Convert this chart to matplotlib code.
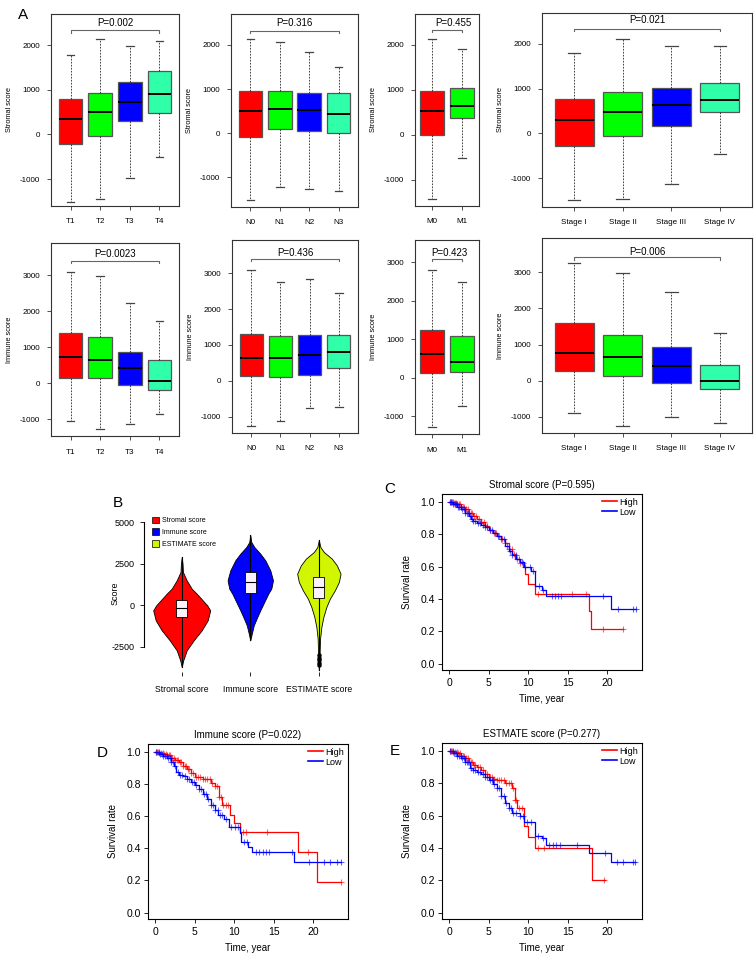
import numpy as np
import matplotlib.pyplot as plt
from matplotlib.patches import Patch
from matplotlib.lines import Line2D

plt.rcParams['font.family'] = ['Liberation Sans', 'DejaVu Sans']
plt.rcParams['axes.unicode_minus'] = False

W, H = 754, 957

# ---- panel A: box plot statistics, rows = whislo, q1, median, q3, whishi ----
t_labels = ['T1', 'T2', 'T3', 'T4']
n_labels = ['N0', 'N1', 'N2', 'N3']
m_labels = ['M0', 'M1']
s_labels = ['Stage I', 'Stage II', 'Stage III', 'Stage IV']

st_T = [[-1522, -1455, -970, -515], [-216, -37, 306, 470], [336, 493, 724, 903],
        [784, 918, 1172, 1418], [1776, 2127, 1985, 2082]]
st_N = [[-1517, -1230, -1268, -1306], [-91, 83, 38, 8], [491, 551, 521, 438],
        [966, 966, 906, 906], [2128, 2075, 1834, 1502]]
st_M = [[-1430, -520], [-15, 363], [520, 644], [970, 1044], [2126, 1900]]
st_S = [[-1497, -1459, -1132, -469], [-290, -67, 164, 469], [305, 469, 625, 752],
        [774, 923, 1020, 1124], [1795, 2115, 1958, 1958]]

im_T = [[-1065, -1278, -1130, -870], [139, 130, -65, -194], [722, 648, 426, 46],
        [1407, 1287, 870, 630], [3093, 2991, 2231, 1741]]
im_N = [[-1271, -1122, -761, -733], [130, 111, 167, 353], [640, 640, 705, 798],
        [1317, 1243, 1271, 1271], [3098, 2764, 2829, 2440]]
im_M = [[-1281, -727], [121, 156], [632, 416], [1238, 1100], [2814, 2502]]
im_S = [[-889, -1269, -1009, -1167], [259, 120, -74, -222], [759, 648, 417, -19],
        [1602, 1269, 944, 444], [3269, 2991, 2444, 1306]]

p_values = ['P=0.002', 'P=0.316', 'P=0.455', 'P=0.021',
            'P=0.0023', 'P=0.436', 'P=0.423', 'P=0.006']

box_colors = ['#FF0000', '#00FF00', '#0000FF', '#30FFAA']

# ---- panel B: violins (value levels and half widths in px) ----
vio_names = ['Stromal score', 'Immune score', 'ESTIMATE score']
vio_colors = ['#FF0000', '#0000FF', '#D2F500']
vio_st_y = [2900, 2500, 2000, 1500, 1000, 700, 300, 0, -300, -900, -1500, -2100, -2700, -3300, -3700]
vio_st_w = [0, 0.8, 1.2, 5, 10, 15, 21, 25.5, 28.5, 26, 20, 12, 5, 1.5, 0]
vio_im_y = [4217, 3800, 3500, 3100, 2700, 2100, 1500, 1000, 700, 200, -300, -700, -1200, -1700, -2100]
vio_im_w = [0, 1, 4, 10, 15, 20, 22.7, 21, 18, 14, 10, 7, 3.5, 1.5, 0]
vio_es_y = [3916, 3500, 3200, 2800, 2400, 1900, 1400, 900, 400, -100, -700, -1300, -2000, -2800, -3600, -3900]
vio_es_w = [0, 1.5, 5, 13, 18, 21.7, 20, 16, 11, 7.5, 4.5, 2.5, 1.2, 0.8, 0.3, 0]
vio_q1 = [-705, 765, 440]
vio_med = [-160, 1406, 1084]
vio_q3 = [341, 1970, 1706]
vio_es_out = [-3000, -3150, -3300, -3450, -3600]

# ---- panels C-E: Kaplan-Meier step curves ----
c_hi_t = [0, 0.5, 1, 1.5, 2, 2.5, 3, 3.5, 4, 4.5, 5, 5.5, 6, 6.5, 7, 7.5, 8, 8.3, 9, 9.4, 9.6, 10.0, 10.8, 17.7, 18.0]
c_hi_s = [1.0, 0.995, 0.985, 0.97, 0.955, 0.935, 0.915, 0.895, 0.875, 0.85, 0.83, 0.81, 0.79, 0.77,
          0.745, 0.71, 0.68, 0.645, 0.62, 0.60, 0.555, 0.495, 0.43, 0.325, 0.215]
c_hi_end = 22.1
c_hi_cens = [0.1, 0.25, 0.4, 0.55, 0.7, 0.85, 1.0, 1.15, 1.3, 1.5, 1.7, 1.9, 2.1, 2.3, 2.5, 2.7, 2.9,
             3.1, 3.4, 3.7, 4.0, 4.4, 4.8, 5.2, 5.6, 5.9, 6.3, 6.7, 7.1, 7.5, 7.9, 8.2, 8.6, 9.0, 9.3,
             11.3, 15.6, 17.4, 19.5, 22.1]
c_lo_t = [0, 0.5, 1, 1.5, 2, 2.5, 2.7, 3, 3.5, 4, 4.5, 5, 5.5, 6, 6.5, 7, 7.5, 8, 8.5, 9, 9.5, 10.3,
          10.9, 11.7, 12.2, 20.5]
c_lo_s = [1.0, 0.985, 0.97, 0.955, 0.935, 0.915, 0.895, 0.885, 0.87, 0.86, 0.845, 0.83, 0.81, 0.79,
          0.77, 0.73, 0.70, 0.67, 0.65, 0.63, 0.60, 0.575, 0.48, 0.455, 0.42, 0.335]
c_lo_end = 23.7
c_lo_cens = [0.05, 0.2, 0.35, 0.5, 0.65, 0.8, 0.95, 1.1, 1.25, 1.4, 1.6, 1.8, 2.0, 2.2, 2.4, 2.6, 2.8,
             3.0, 3.3, 3.6, 3.9, 4.2, 4.5, 4.8, 5.1, 5.4, 5.8, 6.2, 6.6, 6.9, 7.3, 7.7, 8.0, 8.4, 8.8,
             9.2, 9.6, 10.2, 10.6, 11.4, 11.9, 13.0, 13.4, 13.8, 14.1, 19.5, 21.4, 23.3, 23.65]

d_hi_t = [0, 0.5, 1, 1.5, 2, 2.5, 3, 3.5, 4, 4.5, 5, 6, 7, 7.5, 8.1, 8.5, 9.5, 10.0, 10.7, 18.1, 20.5]
d_hi_s = [1.0, 0.995, 0.99, 0.98, 0.965, 0.95, 0.935, 0.915, 0.895, 0.87, 0.845, 0.835, 0.81, 0.79,
          0.72, 0.67, 0.61, 0.555, 0.50, 0.375, 0.188]
d_hi_end = 23.6
d_hi_cens = [0.1, 0.3, 0.5, 0.7, 0.9, 1.1, 1.3, 1.5, 1.7, 1.9, 2.1, 2.3, 2.5, 2.7, 2.9, 3.1, 3.3, 3.5,
             3.7, 3.9, 4.1, 4.3, 4.5, 4.8, 5.1, 5.4, 5.7, 6.0, 6.3, 6.6, 6.9, 7.2, 7.5, 7.8, 8.1, 8.3,
             8.6, 8.9, 9.2, 11.1, 11.5, 14.2, 19.4, 23.5]
d_lo_t = [0, 0.5, 1, 1.5, 2, 2.3, 2.6, 3, 3.5, 4, 4.5, 5, 5.5, 6, 6.5, 7, 7.5, 8, 8.7, 9.3, 10.7,
          10.9, 11.8, 12.2, 17.6]
d_lo_s = [1.0, 0.985, 0.975, 0.96, 0.94, 0.91, 0.875, 0.86, 0.85, 0.835, 0.815, 0.795, 0.77, 0.74,
          0.71, 0.67, 0.64, 0.605, 0.585, 0.535, 0.495, 0.44, 0.41, 0.38, 0.317]
d_lo_end = 23.6
d_lo_cens = [0.05, 0.2, 0.4, 0.6, 0.8, 1.0, 1.2, 1.4, 1.6, 1.8, 2.0, 2.2, 2.5, 2.8, 3.1, 3.4, 3.7,
             4.0, 4.3, 4.6, 4.9, 5.2, 5.5, 5.8, 6.1, 6.4, 6.7, 7.0, 7.3, 7.6, 7.9, 8.2, 8.5, 9.0,
             9.6, 10.1, 10.5, 11.2, 11.6, 12.8, 13.2, 13.6, 14.0, 14.4, 17.3, 19.5, 21.4, 22.2,
             23.1, 23.6]

e_hi_t = [0, 0.5, 1, 1.5, 2, 2.5, 3, 3.5, 4, 4.5, 5, 5.5, 6, 7, 8.0, 8.3, 8.6, 9.5, 10.0, 10.8, 18.1]
e_hi_s = [1.0, 0.995, 0.985, 0.97, 0.955, 0.935, 0.915, 0.9, 0.88, 0.86, 0.84, 0.83, 0.82, 0.80,
          0.77, 0.70, 0.65, 0.535, 0.465, 0.40, 0.20]
e_hi_end = 19.7
e_hi_cens = [0.1, 0.3, 0.5, 0.7, 0.9, 1.1, 1.3, 1.5, 1.7, 1.9, 2.1, 2.3, 2.5, 2.7, 2.9, 3.1, 3.3, 3.6,
             3.9, 4.2, 4.5, 4.8, 5.1, 5.4, 5.7, 6.0, 6.3, 6.6, 6.9, 7.2, 7.5, 7.8, 8.1, 8.3, 8.5,
             8.8, 9.2, 11.2, 12.0, 19.6]
e_lo_t = [0, 0.5, 1, 1.5, 2, 2.6, 3, 3.5, 4, 4.5, 5, 5.5, 6, 6.5, 7, 7.5, 8, 9.0, 9.5, 10.8, 11.7,
          12.2, 17.7, 20.5]
e_lo_s = [1.0, 0.985, 0.97, 0.955, 0.935, 0.895, 0.88, 0.87, 0.86, 0.84, 0.82, 0.795, 0.77, 0.72,
          0.68, 0.65, 0.615, 0.60, 0.56, 0.475, 0.46, 0.42, 0.37, 0.31]
e_lo_end = 23.6
e_lo_cens = [0.05, 0.2, 0.4, 0.6, 0.8, 1.0, 1.2, 1.4, 1.6, 1.8, 2.0, 2.2, 2.4, 2.7, 3.0, 3.3, 3.6,
             3.9, 4.2, 4.5, 4.8, 5.1, 5.4, 5.7, 6.0, 6.3, 6.6, 6.9, 7.2, 7.5, 7.8, 8.1, 8.5, 9.0,
             9.4, 9.8, 10.3, 11.3, 11.9, 12.7, 13.1, 13.5, 14.0, 16.2, 19.7, 21.3, 22.1, 23.3, 23.6]


def px_axes(fig, x0, y0, x1, y1):
    return fig.add_axes([x0 / W, 1 - y1 / H, (x1 - x0) / W, (y1 - y0) / H])


def box_panel(ax, stats, labels, ylabel, yticks, ylim, ptext, bracket_y, text_y, text_x=None):
    n = len(labels)
    bx = []
    for i in range(n):
        bx.append(dict(whislo=stats[0][i], q1=stats[1][i], med=stats[2][i],
                       q3=stats[3][i], whishi=stats[4][i], fliers=[]))
    pos = np.arange(1, n + 1)
    res = ax.bxp(bx, positions=pos, widths=0.8, patch_artist=True, capwidths=0.26,
                 boxprops=dict(edgecolor='#555555', linewidth=0.9),
                 whiskerprops=dict(color='#222222', linewidth=0.6, linestyle=(0, (2, 1.6))),
                 capprops=dict(color='#444444', linewidth=0.9),
                 medianprops=dict(color='black', linewidth=1.4))
    for patch, c in zip(res['boxes'], box_colors):
        patch.set_facecolor(c)
    ax.set_xlim(0.5 - 0.04 * n, n + 0.5 + 0.04 * n)
    ax.set_ylim(*ylim)
    ax.set_xticks(pos)
    ax.set_xticklabels(labels)
    ax.set_yticks(yticks)
    ax.tick_params(labelsize=5.8, length=3, width=0.6, color='#333333')
    ax.tick_params(axis='y', pad=5)
    ax.tick_params(axis='x', pad=6)
    for s in ax.spines.values():
        s.set_linewidth(0.8)
        s.set_color('#333333')
    ax.set_ylabel(ylabel, fontsize=5.3)
    wpx = ax.get_position().width * W
    ax.yaxis.set_label_coords(-38 / wpx, 0.5)
    d = (ylim[1] - ylim[0]) * 0.012
    ax.plot([1, 1, n, n], [bracket_y - d, bracket_y, bracket_y, bracket_y - d],
            color='#666666', lw=0.8)
    if text_x is None:
        text_x = (1 + n) / 2
    ax.text(text_x, text_y, ptext, ha='center', va='center', fontsize=7)


def km_curve(ax, t, s, end, cens, color):
    ax.step(list(t) + [end], list(s) + [s[-1]], where='post', color=color, lw=0.9)
    idx = np.searchsorted(t, cens, side='right') - 1
    ax.plot(cens, np.array(s)[idx], '+', color=color, ms=4.5, mew=0.8, alpha=0.6)


def km_panel(ax, title, hi, lo):
    km_curve(ax, *hi, 'red')
    km_curve(ax, *lo, 'blue')
    ax.set_xlim(-0.95, 24.45)
    ax.set_ylim(-0.04, 1.05)
    ax.set_xticks([0, 5, 10, 15, 20])
    ax.set_yticks([0.0, 0.2, 0.4, 0.6, 0.8, 1.0])
    ax.set_yticklabels(['0.0', '0.2', '0.4', '0.6', '0.8', '1.0'])
    ax.tick_params(labelsize=7.5, length=3, width=0.6, pad=2)
    ax.tick_params(axis='x', pad=3)
    for sp in ax.spines.values():
        sp.set_linewidth(0.8)
    ax.set_title(title, fontsize=7, pad=4)
    ax.set_ylabel('Survival rate', fontsize=7)
    ax.set_xlabel('Time, year', fontsize=7)
    ax.yaxis.set_label_coords(-30 / 200, 0.5)
    ax.xaxis.set_label_coords(0.5, -24 / 176)
    handles = [Line2D([], [], color='red', lw=1.2), Line2D([], [], color='blue', lw=1.2)]
    ax.legend(handles, ['High', 'Low'], loc='upper right', frameon=False, fontsize=6.5,
              handlelength=1.6, handletextpad=0.3, labelspacing=0.1, borderaxespad=0.2,
              borderpad=0.2)


fig = plt.figure(figsize=(W / 100, H / 100), dpi=100)

st_ticks = [-1000, 0, 1000, 2000]
im_ticks = [-1000, 0, 1000, 2000, 3000]

ax = px_axes(fig, 51, 14, 179, 206)
box_panel(ax, st_T, t_labels, 'Stromal score', st_ticks, (-1604, 2694), p_values[0], 2328, 2485)
ax = px_axes(fig, 231, 14, 358, 207)
box_panel(ax, st_N, n_labels, 'Stromal score', st_ticks, (-1675, 2702), p_values[1], 2325, 2490)
ax = px_axes(fig, 415, 14, 479, 206)
box_panel(ax, st_M, m_labels, 'Stromal score', st_ticks, (-1590, 2690), p_values[2], 2333, 2496, 1.7)
ax = px_axes(fig, 542, 13, 752, 207)
box_panel(ax, st_S, s_labels, 'Stromal score', st_ticks, (-1646, 2688), p_values[3], 2331, 2524)

ax = px_axes(fig, 51, 243, 179, 436)
box_panel(ax, im_T, t_labels, 'Immune score', im_ticks, (-1472, 3898), p_values[4], 3398, 3602)
ax = px_axes(fig, 232, 240, 358, 433)
box_panel(ax, im_N, n_labels, 'Immune score', im_ticks, (-1456, 3924), p_values[5], 3395, 3571)
ax = px_axes(fig, 415, 240, 479, 434)
box_panel(ax, im_M, m_labels, 'Immune score', im_ticks, (-1455, 3584), p_values[6], 3091, 3255, 1.57)
ax = px_axes(fig, 542, 238, 752, 433)
box_panel(ax, im_S, s_labels, 'Immune score', im_ticks, (-1454, 3954), p_values[7], 3417, 3574)

# ---- panel B ----
ax = px_axes(fig, 144, 515, 360, 672)
px_unit = 216 / 3.15
profiles = [(vio_st_y, vio_st_w), (vio_im_y, vio_im_w), (vio_es_y, vio_es_w)]
for i, ((vy, vw), col) in enumerate(zip(profiles, vio_colors)):
    xc = i + 1
    hw = np.array(vw) / px_unit
    ax.fill_betweenx(vy, xc - hw, xc + hw, facecolor=col, edgecolor='black', lw=0.6)
    ax.plot([xc, xc], [min(vy), max(vy)], color='black', lw=0.8)
    ax.bar(xc, vio_q3[i] - vio_q1[i], bottom=vio_q1[i], width=0.16, color='#FBF1FB',
           edgecolor='black', lw=0.6, zorder=3)
    ax.plot([xc - 0.08, xc + 0.08], [vio_med[i], vio_med[i]], color='black', lw=0.8, zorder=4)
ax.plot([3] * len(vio_es_out), vio_es_out, 'o', color='black', ms=2.2)
ax.set_xlim(0.45, 3.6)
ax.set_ylim(-4000, 5420)
ax.set_yticks([-2500, 0, 2500, 5000])
ax.set_xticks([1, 2, 3])
ax.set_xticklabels(vio_names)
ax.tick_params(labelsize=6.5, length=3, width=0.6)
ax.tick_params(axis='x', pad=6, labelsize=6.2)
for side in ['top', 'right', 'bottom']:
    ax.spines[side].set_visible(False)
ax.spines['left'].set_bounds(-2500, 5000)
ax.spines['left'].set_linewidth(0.8)
ax.set_ylabel('Score', fontsize=6.5)
ax.yaxis.set_label_coords(-24 / 216, 0.5)
vh = [Patch(facecolor=c, edgecolor='black', lw=0.5) for c in vio_colors]
ax.legend(vh, vio_names, loc='upper left', bbox_to_anchor=(0.035, 0.99), frameon=False,
          fontsize=5, handlelength=1.1, handleheight=1.1, handletextpad=0.4,
          labelspacing=0.6, borderpad=0, borderaxespad=0)

# ---- panels C, D, E ----
ax = px_axes(fig, 442, 494, 642, 670)
km_panel(ax, 'Stromal score (P=0.595)', (c_hi_t, c_hi_s, c_hi_end, c_hi_cens),
         (c_lo_t, c_lo_s, c_lo_end, c_lo_cens))
ax = px_axes(fig, 148, 744, 348, 919)
km_panel(ax, 'Immune score (P=0.022)', (d_hi_t, d_hi_s, d_hi_end, d_hi_cens),
         (d_lo_t, d_lo_s, d_lo_end, d_lo_cens))
ax = px_axes(fig, 442, 743, 642, 919)
km_panel(ax, 'ESTMATE score (P=0.277)', (e_hi_t, e_hi_s, e_hi_end, e_hi_cens),
         (e_lo_t, e_lo_s, e_lo_end, e_lo_cens))

# panel letters
for letter, x, y in [('A', 23, 15), ('B', 118, 503), ('C', 390, 489), ('D', 102, 753), ('E', 395, 751)]:
    fig.text(x / W, 1 - y / H, letter, fontsize=11, ha='center', va='center')

fig.savefig('out.png', dpi=100)
